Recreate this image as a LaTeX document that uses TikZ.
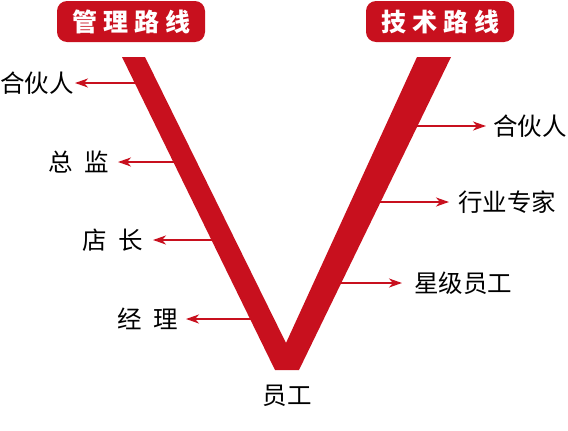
\documentclass[tikz,border=0pt]{standalone}
\usepackage{fontspec}
\newfontfamily\cjk{Noto Sans CJK SC}
\usetikzlibrary{arrows.meta}
\definecolor{vred}{RGB}{200,16,30}

\begin{document}
\begin{tikzpicture}[x=1pt, y=-1pt, >={Stealth[length=13pt, width=9pt, inset=4pt]}]
	\tikzstyle{title} = [fill=vred, rounded corners=10pt, text=white, font=\cjk\bfseries\fontsize{25}{25}\selectfont, minimum width=148pt, minimum height=41pt, inner sep=0pt]
	\tikzstyle{rank} = [font=\cjk\fontsize{24.5}{24.5}\selectfont, inner sep=0pt]
	\tikzstyle{branch} = [->, draw=vred, line width=2pt]

	\useasboundingbox (0,0) rectangle (568,431);

	\node[title] 	at (131, 21.5)		(mgr)	{管\hspace{6pt}理\hspace{6pt}路\hspace{6pt}线};
	\node[title] 	at (440, 21.5)		(tech)	{技\hspace{6pt}术\hspace{6pt}路\hspace{6pt}线};

	% management side
	\node[rank, anchor=east] 	at (74, 83)		(l1)	{合伙人};
	\node[rank, anchor=east] 	at (109, 162)	(l2)	{总\hspace{11pt}监};
	\node[rank, anchor=east] 	at (143, 240)	(l3)	{店\hspace{11pt}长};
	\node[rank, anchor=east] 	at (178, 319)	(l4)	{经\hspace{11pt}理};

	% technical side
	\node[rank, anchor=west] 	at (493, 126)	(r1)	{合伙人};
	\node[rank, anchor=west] 	at (458, 202)	(r2)	{行业专家};
	\node[rank, anchor=west] 	at (414, 283)	(r3)	{星级员工};

	\node[rank] 	at (287, 396)		(base)	{员工};

	\coordinate (a1) at (139, 83);
	\coordinate (a2) at (177, 162);
	\coordinate (a3) at (216, 240);
	\coordinate (a4) at (254, 319);
	\coordinate (b1) at (414, 126);
	\coordinate (b2) at (377, 202);
	\coordinate (b3) at (337, 283);

	\draw[branch, shorten >=1pt]	(a1) -- (l1);
	\draw[branch, shorten >=9pt]	(a2) -- (l2);
	\draw[branch, shorten >=10pt]	(a3) -- (l3);
	\draw[branch, shorten >=8pt]	(a4) -- (l4);
	\draw[branch, shorten >=7pt]	(b1) -- (r1);
	\draw[branch, shorten >=9pt]	(b2) -- (r2);
	\draw[branch, shorten >=12pt]	(b3) -- (r3);

	% the V
	\fill[vred] (122, 57) -- (145, 57) -- (286, 343) -- (417, 57) -- (451, 57) -- (299, 370) -- (275, 370) -- cycle;
\end{tikzpicture}
\end{document}
